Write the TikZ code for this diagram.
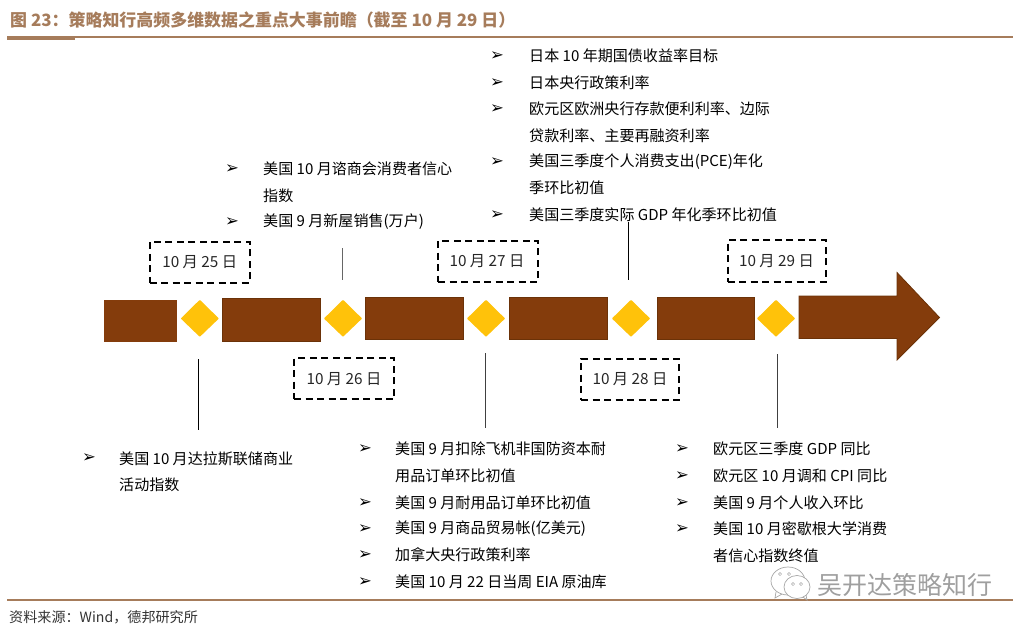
\documentclass[tikz,border=0pt]{standalone}
\usepackage{fontspec}
\setmainfont{Noto Sans CJK SC}
\newfontfamily\bulletfont{DejaVu Sans}
\usetikzlibrary{shapes.geometric,shapes.arrows}
\definecolor{barbrown}{HTML}{843C0C}
\definecolor{baredge}{HTML}{6B3208}
\definecolor{ruleb}{HTML}{A67C5B}
\definecolor{gem}{HTML}{FFC20A}
\tikzset{
 bar/.style={fill=barbrown,draw=baredge,line width=.8pt},
 gemnode/.style={fill=gem,draw=gem,line join=round,line width=1.5pt},
 datebox/.style={draw=black,line width=2pt,dash pattern=on 7pt off 4.5pt},
 datetext/.style={font=\fontsize{15.3}{17}\selectfont,text=black!85,inner sep=0pt},
 listitem/.style={anchor=west,inner sep=0pt,yshift=-1pt,font=\fontsize{15.05}{17}\selectfont,text=black},
 bulletmark/.style={anchor=center,inner sep=0pt,yshift=-1pt,font=\bulletfont\fontsize{16.5}{17}\selectfont,text=black},
 conn/.style={draw=black!75,line width=.9pt},
 rulel/.style={draw=ruleb,line width=2pt},
}
\begin{document}
\begin{tikzpicture}[x=1pt,y=-1pt]
\useasboundingbox (0,0) rectangle (1025,630);
% title and rules
\node[anchor=west,inner sep=0pt,text=ruleb,font=\bfseries\fontsize{16.95}{18}\selectfont] (title) at (10,20) {图 23：策略知行高频多维数据之重点大事前瞻（截至 10 月 29 日）};
\coordinate (ra) at (7,37.2); \coordinate (rb) at (1013,37.2);
\draw[rulel] (ra) -- (rb);
\coordinate (rc) at (7,38); \coordinate (rd) at (75,38);
\draw[rulel,line width=3pt] (rc) -- (rd);
\coordinate (re) at (7,600); \coordinate (rf) at (1013,600);
\draw[rulel] (re) -- (rf);
\node[anchor=west,inner sep=0pt,font=\fontsize{14.1}{16}\selectfont,text=black!80] (source) at (9,617) {资料来源：Wind，德邦研究所};
% timeline bars
\path[bar,draw=none] (104,300) rectangle (177,342);
\path[bar] (222.5,298.5) rectangle (320,341);
\path[bar] (365.5,297.5) rectangle (463,339.5);
\path[bar] (509.5,297.5) rectangle (607.5,339.5);
\path[bar] (657,297.5) rectangle (754.5,339.5);
\path[bar] (799,296) -- (897,296) -- (897,272.5) -- (939.5,317.5) -- (897,360) -- (897,338.5) -- (799,338.5) -- cycle;
% diamonds
\foreach \n/\x in {g1/199.8,g2/343,g3/486,g4/631,g5/776}{
  \path[gemnode] (\x-18,318.5) -- (\x,300.8) -- (\x+18,318.5) -- (\x,335.8) -- cycle;
  \coordinate (\n) at (\x,318.5);
}
% date boxes
\node[datebox,minimum width=100pt,minimum height=41pt,inner sep=0pt] (d1) at (199.7,262.3) {};
\node[datetext] at (d1) {10 月 25 日};
\node[datebox,minimum width=100pt,minimum height=41pt,inner sep=0pt] (d2) at (344,378.7) {};
\node[datetext] at (d2) {10 月 26 日};
\node[datebox,minimum width=100pt,minimum height=41pt,inner sep=0pt] (d3) at (488,261) {};
\node[datetext] at (487,261) {10 月 27 日};
\node[datebox,minimum width=98pt,minimum height=41pt,inner sep=0pt] (d4) at (630,379) {};
\node[datetext] at (d4) {10 月 28 日};
\node[datebox,minimum width=98pt,minimum height=42pt,inner sep=0pt] (d5) at (776.5,261) {};
\node[datetext] at (d5) {10 月 29 日};
% connectors
\coordinate (c1a) at (198.5,359); \coordinate (c1b) at (198.5,430);
\coordinate (c2a) at (342.5,248); \coordinate (c2b) at (342.5,280);
\coordinate (c3a) at (485,353); \coordinate (c3b) at (485,428);
\coordinate (c4a) at (628.5,222); \coordinate (c4b) at (628.5,280);
\coordinate (c5a) at (777,354); \coordinate (c5b) at (777,428);
\draw[conn,draw=black] (c1a) -- (c1b);
\draw[conn,draw=black!60] (c2a) -- (c2b);
\draw[conn] (c3a) -- (c3b);
\draw[conn,draw=black] (c4a) -- (c4b);
\draw[conn] (c5a) -- (c5b);
% top list
\node[bulletmark] (ma1) at (497,55) {➢}; \node[listitem] (ta1) at (529,55) {日本 10 年期国债收益率目标};
\node[bulletmark] (ma2) at (497,82) {➢}; \node[listitem] (ta2) at (529,82) {日本央行政策利率};
\node[bulletmark] (ma3) at (497,108) {➢}; \node[listitem] (ta3) at (529,108) {欧元区欧洲央行存款便利利率、边际};
\node[listitem] (ta4) at (529,135) {贷款利率、主要再融资利率};
\node[bulletmark] (ma5) at (497,161) {➢}; \node[listitem] (ta5) at (529,161) {美国三季度个人消费支出(PCE)年化};
\node[listitem] (ta6) at (529,187) {季环比初值};
\node[bulletmark] (ma7) at (497,214) {➢}; \node[listitem] (ta7) at (529,214) {美国三季度实际 GDP 年化季环比初值};
% middle left list
\node[bulletmark] (mb1) at (232,168) {➢}; \node[listitem] (tb1) at (263,168) {美国 10 月谘商会消费者信心};
\node[listitem] (tb2) at (263,195) {指数};
\node[bulletmark] (mb3) at (232,221) {➢}; \node[listitem] (tb3) at (263,221) {美国 9 月新屋销售(万户)};
% bottom lists
\node[bulletmark] (mc1) at (89,457) {➢}; \node[listitem] (tc1) at (119,458) {美国 10 月达拉斯联储商业};
\node[listitem] (tc2) at (119,484) {活动指数};
\node[bulletmark] (md1) at (365,448) {➢}; \node[listitem] (td1) at (395,448) {美国 9 月扣除飞机非国防资本耐};
\node[listitem] (td2) at (395,475) {用品订单环比初值};
\node[bulletmark] (md3) at (365,502) {➢}; \node[listitem] (td3) at (395,502) {美国 9 月耐用品订单环比初值};
\node[bulletmark] (md4) at (365,528) {➢}; \node[listitem] (td4) at (395,528) {美国 9 月商品贸易帐(亿美元)};
\node[bulletmark] (md5) at (365,554) {➢}; \node[listitem] (td5) at (395,554) {加拿大央行政策利率};
\node[bulletmark] (md6) at (365,581) {➢}; \node[listitem] (td6) at (395,581) {美国 10 月 22 日当周 EIA 原油库};
\node[bulletmark] (me1) at (682,448) {➢}; \node[listitem] (te1) at (713,448) {欧元区三季度 GDP 同比};
\node[bulletmark] (me2) at (682,475) {➢}; \node[listitem] (te2) at (713,475) {欧元区 10 月调和 CPI 同比};
\node[bulletmark] (me3) at (682,502) {➢}; \node[listitem] (te3) at (713,502) {美国 9 月个人收入环比};
\node[bulletmark] (me4) at (682,528) {➢}; \node[listitem] (te4) at (713,528) {美国 10 月密歇根大学消费};
\node[listitem] (te5) at (713,555) {者信心指数终值};
% watermark
\draw[gray!70,line width=.7pt,fill=white] (788,581) ellipse (17 and 14);
\draw[gray!70,line width=.7pt] (776,592) -- (775,598) -- (782,594);
\draw[gray!70,line width=.7pt,fill=white] (797,587) ellipse (13 and 11.5);
\draw[gray!70,line width=.7pt] (803,597) -- (807,600) -- (806,595);
\foreach \p in {(780,574),(789,574),(793,584),(801,584)}{\draw[gray!70,line width=.5pt] \p circle (1.6);}
\node[anchor=west,inner sep=0pt,text=gray!75,font=\fontsize{25}{27}\selectfont] (wm) at (817,585) {吴开达策略知行};
\end{tikzpicture}
\end{document}
